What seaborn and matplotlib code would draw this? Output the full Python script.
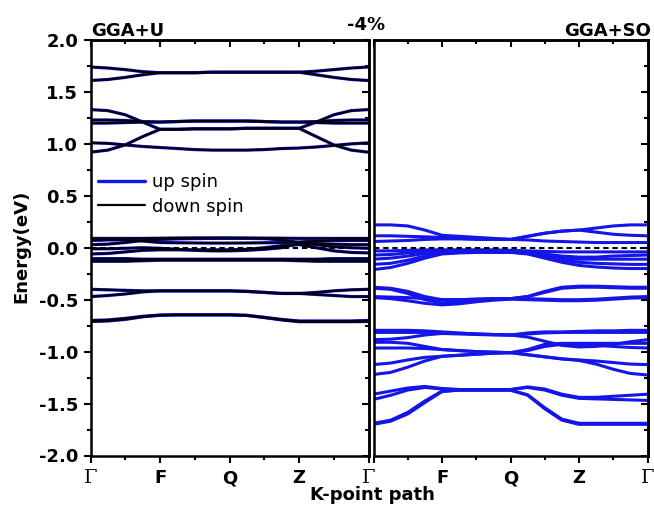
import matplotlib
matplotlib.use("Agg")
import matplotlib.pyplot as plt
import seaborn as sns
import pandas as pd
from matplotlib.ticker import FixedLocator, MultipleLocator, FormatStrFormatter
from matplotlib.lines import Line2D

sns.set_theme(style="ticks")
plt.rcParams["font.family"] = ["DejaVu Sans"]
plt.rcParams["axes.unicode_minus"] = False
for key in ("text.color", "axes.labelcolor", "xtick.color", "ytick.color", "axes.edgecolor"):
    plt.rcParams[key] = "black"

# ---------------- data ----------------
k_path = [0, 0.25, 0.5, 0.75, 1, 1.25, 1.5, 1.75, 2, 2.25, 2.5, 2.75, 3, 3.25, 3.5, 3.75, 4]
k_ticks = [0, 1, 2, 3, 4]
k_labels_left = ["Γ", "F", "Q", "Z", "Γ"]
k_labels_right = ["", "F", "Q", "Z", "Γ"]

# GGA+U (up and down spin nearly coincide)
gga_u_top = [
    [1.74, 1.73, 1.715, 1.695, 1.685, 1.685, 1.685, 1.69, 1.69, 1.69, 1.69, 1.69, 1.69, 1.70, 1.715, 1.73, 1.74],
    [1.61, 1.62, 1.64, 1.665, 1.685, 1.685, 1.685, 1.69, 1.69, 1.69, 1.69, 1.69, 1.69, 1.665, 1.64, 1.62, 1.61],
]
gga_u_mid = [
    [1.33, 1.32, 1.28, 1.21, 1.14, 1.14, 1.145, 1.145, 1.145, 1.15, 1.15, 1.15, 1.15, 1.21, 1.28, 1.32, 1.33],
    [1.23, 1.23, 1.225, 1.215, 1.21, 1.215, 1.22, 1.22, 1.22, 1.22, 1.215, 1.21, 1.21, 1.215, 1.225, 1.23, 1.23],
    [1.20, 1.20, 1.205, 1.21, 1.21, 1.215, 1.22, 1.22, 1.22, 1.22, 1.215, 1.21, 1.21, 1.205, 1.20, 1.20, 1.20],
    [1.01, 1.005, 0.99, 0.975, 0.965, 0.955, 0.945, 0.94, 0.94, 0.94, 0.945, 0.955, 0.96, 0.97, 0.985, 1.0, 1.01],
    [0.92, 0.94, 0.99, 1.07, 1.14, 1.14, 1.145, 1.145, 1.145, 1.15, 1.15, 1.15, 1.15, 1.07, 0.99, 0.94, 0.92],
]
gga_u_fermi = [
    [0.09, 0.09, 0.09, 0.09, 0.092, 0.094, 0.095, 0.095, 0.095, 0.094, 0.093, 0.092, 0.09, 0.09, 0.09, 0.09, 0.09],
    [0.07, 0.075, 0.075, 0.065, 0.05, 0.048, 0.046, 0.045, 0.045, 0.046, 0.048, 0.05, 0.055, 0.065, 0.07, 0.07, 0.07],
    [0.03, 0.035, 0.05, 0.07, 0.08, 0.085, 0.088, 0.09, 0.09, 0.09, 0.088, 0.075, 0.05, 0.04, 0.035, 0.03, 0.03],
    [-0.01, -0.01, -0.005, 0.0, -0.005, -0.015, -0.025, -0.03, -0.03, -0.025, -0.015, 0.0, 0.04, 0.03, 0.01, 0.0, -0.005],
    [-0.06, -0.055, -0.04, -0.025, -0.02, -0.02, -0.02, -0.02, -0.02, -0.015, 0.0, 0.02, 0.03, 0.0, -0.03, -0.045, -0.05],
    [-0.105, -0.105, -0.105, -0.11, -0.11, -0.11, -0.11, -0.11, -0.11, -0.11, -0.11, -0.11, -0.11, -0.11, -0.105, -0.105, -0.105],
    [-0.13, -0.13, -0.13, -0.125, -0.12, -0.12, -0.12, -0.12, -0.12, -0.12, -0.12, -0.12, -0.125, -0.13, -0.13, -0.13, -0.13],
]
gga_u_low = [
    [-0.40, -0.405, -0.41, -0.415, -0.415, -0.415, -0.415, -0.415, -0.415, -0.42, -0.43, -0.44, -0.44, -0.43, -0.415, -0.405, -0.40],
    [-0.47, -0.46, -0.445, -0.425, -0.415, -0.415, -0.415, -0.415, -0.415, -0.42, -0.43, -0.44, -0.44, -0.45, -0.46, -0.47, -0.47],
    [-0.70, -0.695, -0.68, -0.66, -0.648, -0.645, -0.645, -0.645, -0.645, -0.65, -0.67, -0.69, -0.705, -0.705, -0.705, -0.705, -0.70],
    [-0.71, -0.705, -0.69, -0.665, -0.65, -0.647, -0.647, -0.647, -0.647, -0.652, -0.672, -0.695, -0.712, -0.712, -0.712, -0.712, -0.71],
]

# GGA+SO
gga_so_cond = [
    [0.22, 0.22, 0.21, 0.17, 0.12, 0.11, 0.10, 0.09, 0.08, 0.11, 0.14, 0.16, 0.17, 0.19, 0.21, 0.22, 0.22],
    [0.115, 0.115, 0.11, 0.105, 0.10, 0.095, 0.09, 0.085, 0.08, 0.11, 0.14, 0.16, 0.17, 0.15, 0.13, 0.12, 0.115],
    [0.06, 0.065, 0.07, 0.08, 0.085, 0.085, 0.08, 0.08, 0.08, 0.075, 0.065, 0.06, 0.055, 0.05, 0.05, 0.05, 0.05],
]
gga_so_fermi = [
    [-0.03, -0.03, -0.025, -0.02, -0.02, -0.02, -0.02, -0.02, -0.025, -0.03, -0.035, -0.04, -0.04, -0.04, -0.04, -0.04, -0.04],
    [-0.07, -0.065, -0.05, -0.035, -0.03, -0.03, -0.03, -0.03, -0.03, -0.04, -0.06, -0.08, -0.09, -0.09, -0.08, -0.075, -0.07],
    [-0.11, -0.10, -0.08, -0.055, -0.04, -0.035, -0.035, -0.035, -0.035, -0.045, -0.07, -0.10, -0.11, -0.11, -0.11, -0.11, -0.11],
    [-0.16, -0.15, -0.12, -0.08, -0.05, -0.045, -0.04, -0.04, -0.04, -0.055, -0.09, -0.12, -0.14, -0.15, -0.155, -0.16, -0.16],
    [-0.21, -0.19, -0.15, -0.10, -0.06, -0.05, -0.045, -0.045, -0.045, -0.06, -0.10, -0.14, -0.17, -0.185, -0.195, -0.20, -0.20],
]
gga_so_mid = [
    [-0.38, -0.39, -0.42, -0.47, -0.50, -0.50, -0.495, -0.49, -0.49, -0.47, -0.42, -0.38, -0.37, -0.37, -0.375, -0.38, -0.38],
    [-0.39, -0.40, -0.44, -0.50, -0.53, -0.52, -0.505, -0.495, -0.49, -0.47, -0.43, -0.39, -0.38, -0.38, -0.385, -0.39, -0.39],
    [-0.47, -0.475, -0.48, -0.49, -0.50, -0.50, -0.495, -0.49, -0.49, -0.49, -0.495, -0.50, -0.50, -0.495, -0.485, -0.475, -0.47],
    [-0.48, -0.49, -0.51, -0.535, -0.55, -0.54, -0.52, -0.505, -0.495, -0.50, -0.505, -0.51, -0.51, -0.505, -0.495, -0.485, -0.48],
]
gga_so_deep = [
    [-0.795, -0.795, -0.795, -0.80, -0.81, -0.82, -0.83, -0.835, -0.84, -0.82, -0.81, -0.81, -0.805, -0.80, -0.80, -0.795, -0.795],
    [-0.815, -0.815, -0.815, -0.815, -0.82, -0.825, -0.83, -0.835, -0.84, -0.83, -0.82, -0.815, -0.815, -0.815, -0.815, -0.815, -0.815],
    [-0.885, -0.88, -0.865, -0.84, -0.825, -0.83, -0.835, -0.84, -0.84, -0.86, -0.90, -0.94, -0.955, -0.95, -0.93, -0.905, -0.885],
    [-0.91, -0.91, -0.92, -0.95, -0.98, -0.99, -1.0, -1.005, -1.01, -0.98, -0.93, -0.92, -0.92, -0.92, -0.92, -0.92, -0.92],
    [-0.965, -0.965, -0.965, -0.97, -0.98, -0.99, -1.0, -1.005, -1.01, -0.99, -0.95, -0.93, -0.93, -0.94, -0.95, -0.96, -0.965],
    [-1.125, -1.11, -1.08, -1.055, -1.045, -1.035, -1.025, -1.015, -1.01, -1.03, -1.05, -1.07, -1.08, -1.09, -1.105, -1.12, -1.125],
    [-1.22, -1.20, -1.15, -1.09, -1.045, -1.035, -1.025, -1.015, -1.01, -1.03, -1.05, -1.07, -1.085, -1.12, -1.17, -1.21, -1.225],
]
gga_so_bottom = [
    [-1.41, -1.38, -1.35, -1.335, -1.355, -1.365, -1.365, -1.365, -1.365, -1.34, -1.36, -1.41, -1.44, -1.44, -1.43, -1.42, -1.41],
    [-1.46, -1.42, -1.37, -1.345, -1.36, -1.365, -1.365, -1.365, -1.365, -1.345, -1.37, -1.42, -1.45, -1.455, -1.46, -1.465, -1.47],
    [-1.70, -1.67, -1.60, -1.49, -1.385, -1.37, -1.37, -1.37, -1.37, -1.42, -1.55, -1.66, -1.70, -1.70, -1.70, -1.70, -1.70],
    [-1.69, -1.66, -1.585, -1.475, -1.38, -1.372, -1.372, -1.372, -1.372, -1.415, -1.54, -1.65, -1.69, -1.69, -1.69, -1.69, -1.69],
]

gga_u_up = gga_u_top + gga_u_mid + gga_u_fermi + gga_u_low
gga_u_down = gga_u_top + gga_u_mid + gga_u_fermi + gga_u_low
gga_so = gga_so_cond + gga_so_fermi + gga_so_mid + gga_so_deep + gga_so_bottom


def to_long(bands, tag):
    rows = []
    for i, band in enumerate(bands):
        for k, e in zip(k_path, band):
            rows.append((f"{tag}{i}", k, e))
    return pd.DataFrame(rows, columns=["band", "k", "E"])


df_up = to_long(gga_u_up, "up")
df_down = to_long(gga_u_down, "dn")
df_so = to_long(gga_so, "so")

BLUE = "#1515e8"
W, H = 654, 514
fig = plt.figure(figsize=(W / 100, H / 100), dpi=100)


def fx(px):
    return px / W


def fy(py):
    return 1 - py / H


ax_l = fig.add_axes([fx(90.5), fy(455.5), (368.5 - 90.5) / W, 415.5 / H])
ax_r = fig.add_axes([fx(373.5), fy(455.5), (647.5 - 373.5) / W, 415.5 / H])

sns.lineplot(data=df_up, x="k", y="E", units="band", estimator=None, sort=False,
             color=BLUE, lw=2.3, ax=ax_l, legend=False)
sns.lineplot(data=df_down, x="k", y="E", units="band", estimator=None, sort=False,
             color="black", lw=1.5, ax=ax_l, legend=False)
sns.lineplot(data=df_so, x="k", y="E", units="band", estimator=None, sort=False,
             color=BLUE, lw=2.2, ax=ax_r, legend=False)

for ax in (ax_l, ax_r):
    ax.axhline(0, color="black", lw=1.5, ls=(0, (2.6, 1.8)), zorder=5)
    ax.set_xlim(0, 4)
    ax.set_ylim(-2, 2)
    ax.set_xlabel("")
    ax.set_ylabel("")
    for s in ax.spines.values():
        s.set_linewidth(1.8)
        s.set_visible(True)
        s.set_edgecolor("black")
    ax.xaxis.set_major_locator(FixedLocator(k_ticks))
    ax.xaxis.set_minor_locator(MultipleLocator(0.5))
    ax.yaxis.set_major_locator(MultipleLocator(0.5))
    ax.yaxis.set_minor_locator(MultipleLocator(0.25))
    ax.tick_params(axis="x", which="both", direction="out", bottom=True, top=False,
                   width=1.5, color="black")
    ax.tick_params(axis="x", which="major", length=5, pad=5)
    ax.tick_params(axis="x", which="minor", length=3)
    # inward top ticks
    top = ax.secondary_xaxis("top")
    top.xaxis.set_major_locator(FixedLocator(k_ticks))
    top.xaxis.set_minor_locator(MultipleLocator(0.5))
    top.tick_params(which="both", direction="in", labeltop=False, width=1.5, color="black")
    top.tick_params(which="major", length=5)
    top.tick_params(which="minor", length=3)
    top.spines["top"].set_linewidth(1.8)
    # inward right ticks
    rgt = ax.secondary_yaxis("right")
    rgt.yaxis.set_major_locator(MultipleLocator(0.5))
    rgt.yaxis.set_minor_locator(MultipleLocator(0.25))
    rgt.tick_params(which="both", direction="in", labelright=False, width=1.5, color="black")
    rgt.tick_params(which="major", length=5)
    rgt.tick_params(which="minor", length=3)
    rgt.spines["right"].set_linewidth(1.8)

ax_l.tick_params(axis="y", which="both", direction="out", left=True, right=False, width=1.5)
ax_l.tick_params(axis="y", which="major", length=5, pad=4, labelsize=13)
ax_l.tick_params(axis="y", which="minor", length=3)
ax_l.yaxis.set_major_formatter(FormatStrFormatter("%.1f"))
for lbl in ax_l.get_yticklabels():
    lbl.set_fontweight("bold")

ax_r.tick_params(axis="y", which="both", left=False, right=False, labelleft=False)

for ax, labels in ((ax_l, k_labels_left), (ax_r, k_labels_right)):
    ax.set_xticks(k_ticks)
    ax.set_xticklabels(labels)
    for lbl in ax.get_xticklabels():
        if lbl.get_text() == "Γ":
            lbl.set_fontfamily("DejaVu Serif")
            lbl.set_fontweight("normal")
            lbl.set_fontsize(14)
        else:
            lbl.set_fontweight("bold")
            lbl.set_fontsize(13)

handles = [Line2D([], [], color=BLUE, lw=2.4), Line2D([], [], color="black", lw=1.6)]
ax_l.legend(handles, ["up spin", "down spin"], loc="upper left",
            bbox_to_anchor=(0.027, 0.679), frameon=False, fontsize=13,
            handlelength=2.6, handletextpad=0.4, borderpad=0, borderaxespad=0,
            labelspacing=0.35)

fig.text(fx(91), fy(35.5), "GGA+U", fontsize=13, fontweight="bold", ha="left", va="baseline")
fig.text(fx(366), fy(30), "-4%", fontsize=13, fontweight="bold", ha="center", va="baseline")
fig.text(fx(651), fy(36), "GGA+SO", fontsize=13, fontweight="bold", ha="right", va="baseline")
fig.text(fx(21), fy(246), "Energy(eV)", fontsize=13, fontweight="bold", rotation=90,
         ha="center", va="center")
fig.text(fx(372), fy(500), "K-point path", fontsize=13, fontweight="bold",
         ha="center", va="baseline")

fig.savefig("out.png", dpi=100)
